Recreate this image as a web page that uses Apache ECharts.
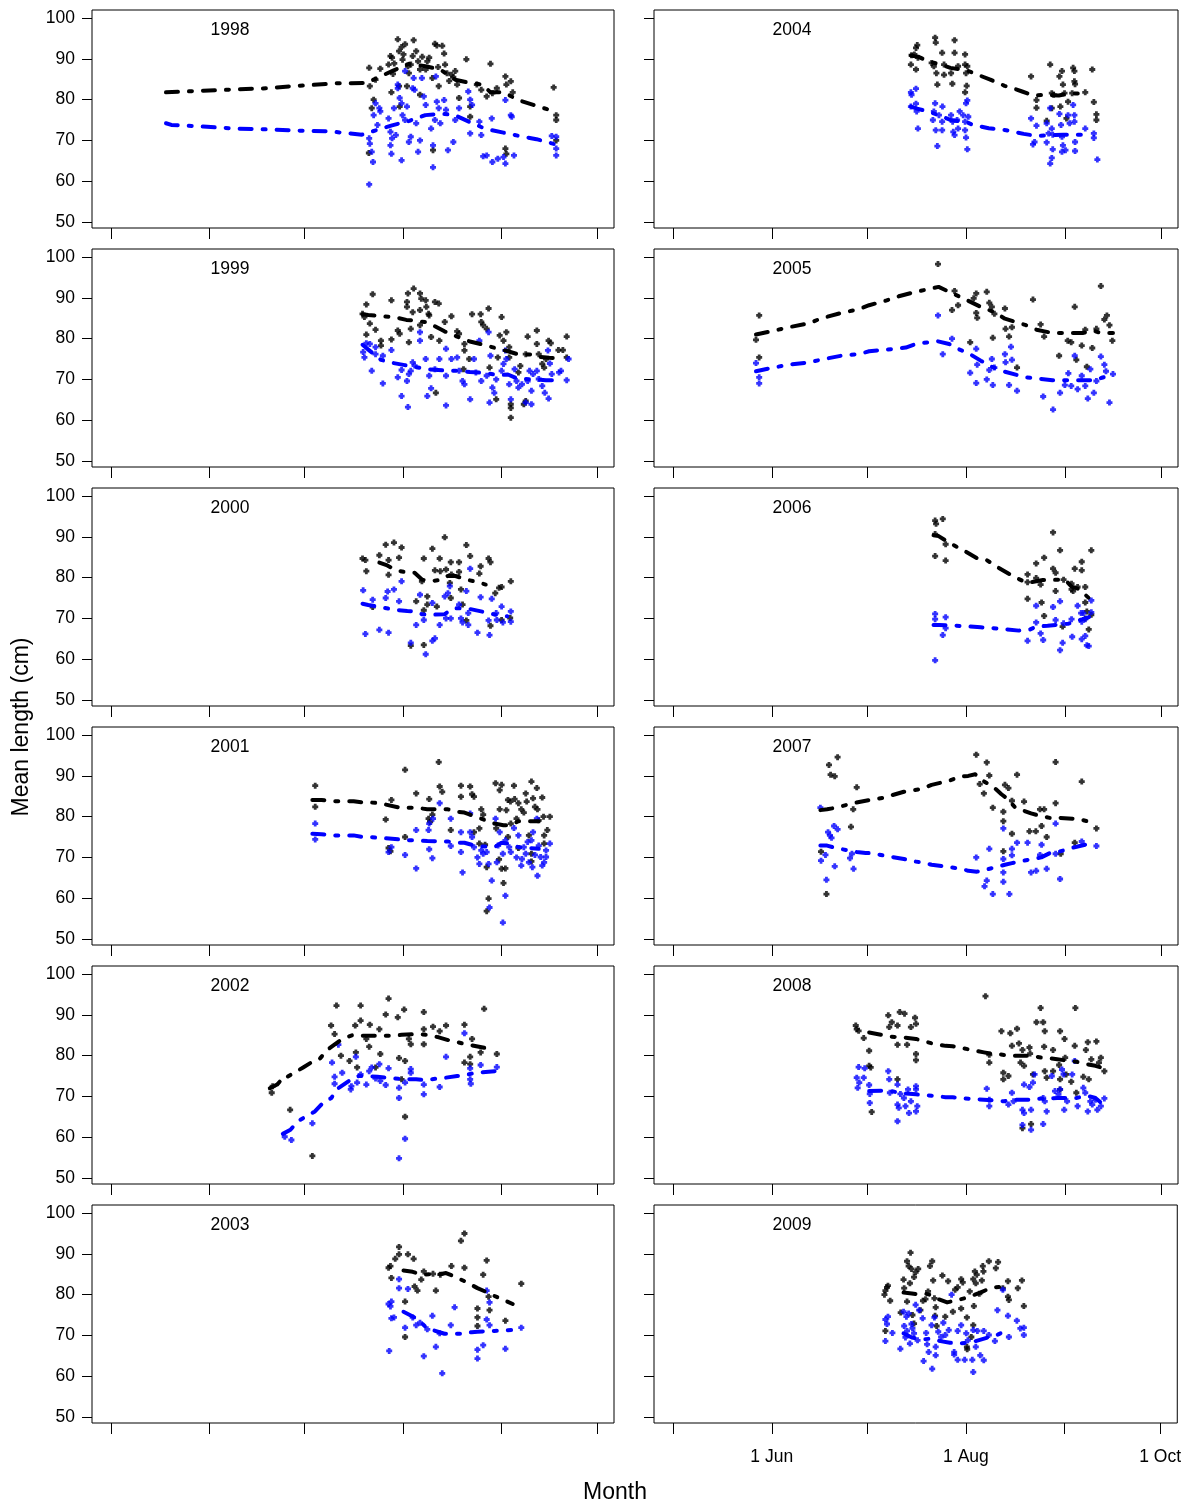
<!DOCTYPE html>
<html><head><meta charset="utf-8">
<script src="https://cdn.jsdelivr.net/npm/echarts@6/dist/echarts.min.js"></script>
<style>html,body{margin:0;padding:0;background:#fff}#c{width:1184px;height:1506px}</style>
</head><body><div id="c"></div>
<script>
// ---- categories / ticks ----
const years = [1998,1999,2000,2001,2002,2003,2004,2005,2006,2007,2008,2009];
const monthTicks = [121,152,182,213,244,274];            // day of year: 1 May .. 1 Oct
const monthLabelTicks = [152,213,274];
const monthLabelText = ['1 Jun','1 Aug','1 Oct'];
const lengthTicks = [50,60,70,80,90,100];

// ---- data: [day of year, mean length cm] ----
const black1998 = [[202.3,87.8],[202.5,83.3],[203.1,77.9],[203.7,80],[204.3,84.9],[202.2,66.9],[205.8,87.6],[208.4,88.6],[209,90.7],[209.5,90.3],[209.3,81.8],[211.3,94.8],[211.7,91.9],[212.5,92.9],[213.6,93.6],[213.1,91.1],[211.9,78.3],[211.7,83.3],[214.2,83.3],[214.8,86.5],[215.4,88.6],[216,90.7],[216.3,94.6],[217.1,91.9],[217.7,89.4],[218.3,87.4],[218.3,81.2],[220.1,87.4],[220.6,89.4],[221.2,90.3],[222.2,85.3],[223,93.7],[223.6,93.3],[224.2,83.3],[225.3,93.2],[225.9,91.3],[226.2,88.6],[226.8,86.5],[228.2,86.1],[228.8,85.5],[229.4,87],[230,83.7],[230.6,80.4],[232.9,89.9],[234.1,78.3],[234.1,75.8],[236.2,83.7],[237.6,82.4],[239.3,80.8],[240.5,88.8],[241.1,81.6],[242.5,82.8],[245.2,85.7],[245.5,83.7],[246.9,84.5],[247.5,81.8],[245.2,68],[245.5,66.7],[222.4,67.6],[260.4,83],[261.2,76.2],[261.2,75],[261.2,70],[210.2,88.9],[212.8,89.8],[214.5,88.2],[219,90.5],[224,88],[227.5,84.6],[209.8,86.3]];
const blue1998 = [[202.3,70.5],[202.5,69.2],[203.1,67.2],[203.5,64.7],[202.3,59.2],[203.7,76.2],[204.3,79.1],[204.9,73.8],[205.5,77.9],[205.8,77.1],[208.4,75.4],[209,72.1],[209,68.8],[209.3,66.7],[209.5,70.5],[210.1,77.9],[210.7,71.3],[211.3,83.7],[211.3,82.8],[211.9,80.4],[212.5,79.1],[212.8,76.2],[212.5,65.1],[213.6,87],[213.6,75],[214.2,78.3],[214.8,69.6],[215.4,70.9],[216,82.8],[216.3,85.3],[216.6,82.4],[217.1,74.2],[217.7,67.2],[218.3,70],[218.9,85.3],[219.5,80.8],[220.1,78.7],[221.8,72.9],[222.4,68.8],[223,75],[223.3,85.7],[223.6,79.5],[224.2,77.9],[224.7,74.2],[222.4,63.4],[225.9,79.9],[226.5,77.5],[227.1,67.6],[228.8,69.6],[229.4,75],[230.6,77.9],[233.5,82],[234.1,80],[234.1,71.7],[234.7,78.7],[237,74.6],[237.6,71.3],[238.2,66.1],[239.3,66.3],[240.9,75.4],[241.1,64.7],[242.8,65.5],[244.6,65.9],[245.2,64.3],[245.2,79.9],[246.9,76.2],[247.2,75.8],[247.9,66.3],[259.8,71.1],[261.2,70.9],[261.2,68],[261.2,66.3]];
const blackFit1998 = [[138.3,81.8],[150,82.2],[160,82.5],[170,82.8],[180,83.4],[192,84],[201.4,84.1],[209.5,87],[214.8,88.8],[220,88.2],[224.7,87.4],[229.4,84.9],[234,84.1],[238,83.7],[240.5,81.8],[244.6,81.8],[249.3,79.9],[254,78.7],[261.5,76.9]];
const blueFit1998 = [[138.3,74.2],[140,73.8],[150,73.4],[160,72.9],[170,72.7],[180,72.4],[190,72.2],[200,71.4],[202.5,72],[209.5,73.7],[215,74.8],[220,76.2],[225,76.5],[229,76.3],[234,74.5],[239,72.8],[244.6,71.9],[250,71],[255,70.3],[262,68.8]];

const black1999 = [[200.2,86.1],[200.8,85.3],[201.4,88.4],[201.4,81],[202.5,83.7],[203.4,90.9],[204.3,82.2],[206,78.3],[206,79.5],[209.3,89.4],[209.3,79.8],[211.3,82],[211.9,81.2],[214.2,89],[214.5,91.1],[214.2,87.8],[214.8,79.1],[215.4,82.4],[216,86.5],[216.3,92.3],[218.3,91.1],[218.7,89.8],[218.3,87],[218.3,83.3],[220.1,89.4],[220.3,87.8],[221,86.1],[221.2,85.7],[221.8,80.4],[223,89],[224.2,88.6],[223.3,66.7],[224.4,79.5],[226.1,84.1],[228.2,85.5],[230,81.8],[230.6,81.2],[232.3,78.7],[232.3,77.1],[232,72.5],[234.7,86],[233.8,75],[237.4,86],[237.6,84.1],[238.2,83.3],[239.3,82.4],[239.9,87.4],[240.2,72.9],[242.3,65.1],[242.8,75.4],[243.4,80.8],[244,85.3],[244.6,79.5],[245.5,81.6],[246.4,77.9],[246.9,63.9],[246.9,60.6],[246.9,63],[246.4,75.4],[249.3,71.7],[249.9,73.3],[251,63.9],[251.6,64.7],[251.6,76.2],[252.2,80.5],[255.1,82],[255.1,78.7],[255.7,76.2],[256.8,73.8],[257.4,72.9],[258,75],[258.8,79.5],[259.5,78.9],[261.9,77.2],[263.3,77.2],[264.5,80.5],[264.5,75.4]];
const blue1999 = [[200.4,76.7],[200.8,75.4],[201.4,78.9],[202.5,78.7],[203.1,72.1],[204.3,76.2],[204.3,77.9],[206.6,75.8],[206.6,69],[209.3,77.2],[211.3,70.5],[212.5,72.3],[212.5,65.9],[214.2,69.6],[214.5,63.2],[214.8,71.3],[215.4,72.1],[216,74.2],[216.6,73.4],[218.3,81.6],[218.3,79.5],[220.1,75],[220.6,65.9],[221.2,70.9],[221.8,67.8],[223,72.5],[224.4,75],[226.5,77.5],[226.5,70.9],[226.5,63.6],[228.2,75],[230,75.4],[230.6,72.1],[231.7,69.6],[232.3,68.8],[234.1,65.1],[235.3,75],[235.9,71.7],[237,79.5],[237.6,69.6],[239.3,70.9],[239.9,81.6],[240.5,75.8],[240.2,64.3],[241.1,68],[241.7,66.7],[242.3,70],[244,72.1],[244.6,73.8],[245.2,77.1],[245.5,75],[246.4,68.8],[246.9,65.1],[248.1,72.5],[248.7,69.6],[249.3,68],[250.4,68.8],[251.6,64.3],[252.2,69.6],[252.8,72.1],[253.4,67.2],[253.4,63.9],[253.9,71.3],[255.1,72.1],[255.7,70.1],[256.8,68.4],[257.6,66.7],[258.6,77.1],[258.8,65.3],[259.2,73.9],[259.8,71.3],[262.1,71.7],[262.7,72.1],[264.5,69.8],[265.1,75]];
const blackFit1999 = [[200.2,86],[202,85.8],[206,85.5],[210,85.3],[214,84.6],[216.6,84.4],[220.6,84],[226,81.8],[230,80.5],[234,79.3],[238.8,78.4],[243,77.5],[246,76.9],[249,76.2],[253,76.1],[256,75.5],[259,75.3],[262,75.2]];
const blueFit1999 = [[200.2,78.5],[202.5,77],[206,74.8],[210,74],[213.5,73.5],[220.6,72.5],[226,72.2],[230,72.1],[234,71.8],[239,71.6],[243,71],[246,71.2],[249,70.2],[254,70],[258,69.8],[262,69.8]];

const black2000 = [[200.2,84.7],[201.1,84.3],[201.4,81.6],[203.4,72.8],[205.5,85.5],[207.5,88.1],[208.4,84.3],[208.4,80.7],[210.1,88.6],[211.7,84.9],[212.5,87.4],[215.4,63.3],[217.1,74.2],[218.9,79.1],[219.5,84.7],[219.5,72],[219.5,63.5],[220.6,75.4],[220.6,73.4],[222.2,87.1],[223,81.8],[223.6,72.9],[224.5,84.7],[224.7,81.6],[226.1,89.9],[226.5,82],[227.7,78.7],[228,75],[228,83.8],[228.2,80.8],[230.6,83.8],[230.6,81.4],[231.2,77.1],[231.7,73.4],[232.9,88],[232.9,69.5],[234.1,85.3],[237,81],[237.4,82.8],[239.9,84.7],[240.5,83.8],[240.5,68.2],[242,76.2],[243.2,77.5],[244,77.7],[244,69.6],[246.9,79.1],[246.7,70.1]];
const blue2000 = [[200.4,76.9],[201.1,66.2],[203.4,74.6],[205.5,67.2],[207.5,75],[208.1,76.6],[208.4,66.5],[210.1,77.1],[211.7,74.2],[212.5,79.1],[215.4,64],[217.1,68.4],[218.3,75.8],[219.5,69.6],[220.1,61.2],[222.2,73.8],[222.2,64.5],[223,65.1],[224.5,68.4],[226.1,75.4],[226.5,70],[227.1,76.2],[227.7,77.9],[228,70],[230.6,73.4],[231.2,70],[231.7,69],[232.9,76.7],[233.5,71.3],[234.1,82.2],[233.5,68.4],[236.4,66.5],[237.4,75.2],[239.9,69.5],[240.2,65.9],[240.9,74.8],[242.3,71.3],[242.5,69.6],[244,72.9],[244.4,69],[246.9,71.7],[246.9,69.2]];
const blackFit2000 = [[205.5,83.7],[208,83],[210.8,81.8],[214.5,81.2],[216.6,81.2],[219,79.5],[222,79.2],[224.7,79.4],[227,80.4],[229.5,80.4],[233,79.5],[236,79],[239,78.3]];
const blueFit2000 = [[200.2,73.6],[202,73.3],[205.5,72.8],[210.5,72.1],[214.3,71.8],[216.6,71.7],[219,71],[222,70.9],[226,71],[228.6,72.4],[230.5,72.5],[234,72.3],[239.5,71.4],[242,70.9],[245.8,70.5]];

const black2001 = [[185.3,87.6],[185.3,82.4],[207.5,79.3],[208.4,72.3],[209,71.5],[209.3,84.1],[213.6,91.5],[213.6,75],[217.1,85.7],[221.2,84.3],[221,79.5],[221.5,78.7],[222.2,80.5],[224.2,93.4],[224.5,87.4],[225.3,86.1],[228,76.7],[231.2,87.6],[231.2,84.9],[234.1,87.4],[234.7,85.5],[235.3,84.9],[235.3,76.2],[237,77.1],[237.6,81.8],[238.2,80.5],[237,73.4],[238.8,73.1],[239.3,67.6],[239.9,59.9],[239.3,56.8],[242.1,88.2],[242.3,77.1],[243.4,86.5],[243.4,81.8],[243.2,69.5],[244,67.2],[244.6,63.7],[244,87.8],[245.2,67.3],[245.5,81.6],[246,84.1],[246,75],[246.8,83.7],[246.9,78.3],[247.9,87.6],[248.1,84.3],[248.7,79.5],[249.3,83.3],[249.3,72.3],[250.2,81.8],[251,81],[251.6,85.7],[251.9,83.7],[252.6,75.4],[253.4,70.9],[253.4,88.6],[253.9,84.5],[254.5,82.4],[255.1,87],[255.3,81.8],[255.7,79.1],[256.8,84.7],[257.2,80],[257.4,75.4],[258.4,76.7],[259.2,80],[257.4,73.4],[253.4,69]];
const blue2001 = [[185.3,78.3],[185.3,74.4],[208.4,71.3],[209.3,72.5],[213.6,70.6],[217.1,76.7],[217.1,67.3],[221,76.7],[221.2,78.3],[221.2,72],[222.2,69.8],[222.4,79.5],[224.5,83.3],[228,79.5],[228,72.8],[231.2,76.2],[231.2,71.3],[231.7,66.3],[234.1,80.8],[234.1,76.2],[234.7,75],[235.3,72.5],[236.4,70],[237,68.4],[237.6,71.7],[238.2,70.9],[239.3,71.3],[239.9,68.4],[240.2,57.7],[240.9,64.3],[242.1,79.5],[242.5,68.8],[242.9,72.9],[243.4,76.2],[244.4,70.9],[245.2,60.6],[244.4,54],[245.2,74.2],[246.4,72.5],[246.9,71.3],[247.9,77.2],[248.7,70],[249.3,75.4],[250.2,68],[250.4,69.6],[251,72.5],[251.6,70.9],[252.2,73.8],[252.6,68.8],[253.4,74.2],[253.7,67.6],[253.9,76.2],[254.5,70.6],[255.1,79.5],[255.3,65.5],[255.7,72.9],[256.3,70.1],[256.8,68],[257.4,68.8],[258,71.7],[258,70.1],[259.2,73.4]];
const blackFit2001 = [[184.4,84.1],[187.3,84.1],[190,83.8],[197.4,83.8],[200.2,83.5],[202.3,83.5],[205.5,83.3],[212,82.2],[215.4,82.2],[217.1,82.2],[220.6,81.8],[227.1,81.8],[230,81.2],[232.3,81],[235.9,80],[241.7,78.3],[244.6,77.9],[246.9,77.9],[249.3,78.9],[255.7,78.9]];
const blueFit2001 = [[184.4,75.8],[187.3,75.7],[190,75.4],[197.4,75.4],[200.2,75],[202.3,75],[205.5,74.8],[212,74.4],[215,74.2],[217.1,74.2],[220.6,74],[227.1,73.9],[230,73.6],[232.3,73.6],[235.9,72.8],[241.7,72.5],[244,73.6],[246.9,73.3],[249.3,72.5],[255.7,72.1]];

const black2002 = [[171.6,70.9],[171.9,72.5],[177.4,66.7],[184.4,55.4],[190.3,87.4],[191.4,85.3],[192,92.3],[193.4,80],[196.1,78.7],[197.9,87.4],[198.1,80.8],[198.5,77.1],[199.6,92.3],[199.6,88.6],[201.4,84.1],[202.3,82.2],[202.5,87.6],[204.3,77.1],[205.5,86.5],[205.8,80.4],[207.5,90.1],[208.4,94],[211.3,89.4],[211.7,79.4],[212.5,74.2],[213.3,91.3],[213.6,78.7],[213.6,65],[214.8,84.1],[215.4,82.8],[219.5,90.7],[219.5,86.5],[219.5,82.8],[222.4,87.1],[224.5,86],[226.5,87.4],[232.3,87.6],[232.3,78.3],[234.1,79.7],[234.7,84.1],[234.1,77.9],[237.4,80.8],[238.5,91.5],[242.5,80.4]];
const blue2002 = [[175.7,60.1],[177.8,59.3],[184.4,63.4],[190.6,78.3],[191.4,74.8],[191.4,73.1],[192.6,82.7],[193.8,75.8],[196.5,71.7],[196.7,72.5],[198.1,79.7],[198.5,73.4],[199.6,75.4],[201.4,72.9],[202.3,76.2],[203.1,77.1],[204.3,74.4],[205.5,77.9],[205.8,73.8],[207.5,72.8],[208.4,76.9],[211.7,72.1],[211.7,69.6],[211.7,54.8],[213.6,73.4],[213.6,59.6],[215.4,76.7],[215.4,75.8],[219.5,72.9],[219.5,70.5],[224.5,72.3],[226.5,79.7],[232.3,85.5],[234.1,76.9],[234.1,74.2],[234.3,73.1],[237.4,77.7],[242.5,77.2]];
const blackFit2002 = [[171,72],[173.3,72.9],[175.7,75],[176.5,74.8],[181.5,77.1],[184.4,78.5],[186.8,79.3],[189.1,81.4],[193.8,84.1],[197.3,85.1],[199.6,84.9],[203.1,84.9],[209,84.9],[212.5,85.1],[217.7,85.3],[220.5,85.1],[224.2,84.5],[227.7,83.7],[230,83.3],[232.9,82.8],[239.3,81.8]];
const blueFit2002 = [[175.1,60.8],[177.5,61.8],[179.8,63.9],[185.2,66.3],[188.2,68.8],[190.4,69.6],[192,71.7],[196.7,74.2],[199,75],[201.4,75],[204.9,74.8],[210,74.4],[214.8,74.2],[217.1,74.2],[219.5,74],[226.5,74.6],[230,75],[232.3,75.2],[235.9,75.8],[243.4,76.3]];

const black2003 = [[208.4,86.6],[209,87],[209.3,84.1],[210.5,88.8],[211.7,91.7],[211.7,89.9],[213.6,78.3],[213.6,69.6],[214.5,89.9],[216.3,88.8],[216.6,82],[217.5,81],[218.7,83.7],[219.5,85.7],[222.4,85.1],[223.3,81],[224.7,84.9],[228.2,87],[231.2,93.2],[232.3,95],[232.3,86.6],[236.4,76.6],[236.4,74.4],[236.4,72.3],[238.2,84.9],[239.3,88.4],[239.9,79.5],[240.2,76.2],[245.2,73.6],[250.2,82.7]];
const blue2003 = [[208.4,77.7],[208.6,66.2],[209,77.1],[209.3,78.3],[209.3,74.2],[210.1,74.4],[211.7,83.8],[211.7,81.6],[213.6,71.9],[214.5,81.4],[216,74.4],[217.1,72.5],[218.3,73.1],[219.5,64.9],[220.6,71.5],[222.2,74.8],[223.3,67.2],[224.5,70.5],[225.3,60.7],[228,72.5],[229.2,76.9],[236.4,66.5],[236.4,64.3],[238.2,67.6],[239.3,81],[239.3,73.9],[240.2,78.1],[240.2,72.5],[245.2,66.7],[250.2,71.9]];
const blackFit2003 = [[213.1,85.9],[216,85.6],[218.9,84.9],[221.8,85],[223,84.8],[226.5,85.3],[229,84.5],[232.3,83.3],[236.4,81.6],[240.5,80.2],[241.7,79.7],[247.5,77.7]];
const blueFit2003 = [[213.1,75.8],[216.6,74.4],[218.9,73],[220.6,71.6],[222.4,71.3],[226,70.4],[231.7,70.4],[234.6,70.8],[236.4,70.9],[241.7,71.1],[247,71.3]];

const black2004 = [[195.6,88.6],[196.7,91.1],[197.2,92.7],[197.6,93.4],[197.2,87.4],[197.8,90.3],[195.8,90.9],[202.1,89],[203.2,95.2],[203.4,94],[202.8,88.2],[203.6,86.5],[203.9,83.7],[205.4,91.5],[206,88.6],[206,86.1],[208.2,86.5],[208.6,83.9],[209.3,94.6],[209.3,91.5],[210.4,88.2],[212.6,91.1],[212.6,88.6],[212.9,86.5],[213.1,83.4],[212.6,81.8],[213.3,88.2],[233.3,85.7],[235,79.9],[235,78],[238.2,74.8],[239.3,88.6],[239.8,81.6],[240.4,81.2],[239.8,77.9],[242.2,85.7],[242.5,78.3],[243,87],[243.3,83.7],[243.8,81.6],[244.4,75.4],[244.9,79.5],[246.5,87.8],[246.9,87],[246.9,84.5],[247.1,83.8],[246.2,81.6],[250.3,81.8],[252.5,87.4],[253,79.4],[253.8,76.4],[253.8,75]];
const blue2004 = [[195.6,81.8],[195.8,81.2],[197.2,82.7],[197.2,79],[197.4,77.1],[197.8,72.9],[195.6,78.3],[203.2,79.1],[202.8,77.1],[202.5,75],[203.4,72.5],[203.9,68.6],[204.4,76.2],[205.5,78.3],[205.4,74.6],[205.4,72.5],[208.2,76.2],[208.7,74.6],[208.9,72.1],[209.3,71.3],[210.1,75],[210.4,72.9],[210.9,77.1],[212,76.2],[212.6,74.6],[212.6,72.5],[212.9,79.1],[213.3,79.8],[212.9,70.7],[213.3,67.8],[213.6,75.8],[233.3,75.4],[235,73.6],[233.9,69],[234.4,69.6],[238.2,74.2],[238.8,71.7],[239.3,77.9],[239.8,72.9],[240.1,71.4],[240.1,67.8],[238.2,69.5],[239.8,65.7],[239.3,64.3],[242.2,76.5],[242.7,73.8],[243,70.9],[243.3,68.8],[243,67.2],[244.1,67.6],[244.9,76.2],[245.4,74.2],[246.5,78.7],[246.9,76.2],[246.9,74.6],[247.1,69.6],[247.1,67.4],[250.3,72.9],[253,71.7],[253,70.6],[254.1,65.3]];
const blackFit2004 = [[195.6,90.8],[198,90.5],[201,89.4],[205,88.6],[208,87.8],[213,87.2],[215.3,86.5],[220.5,84.9],[225,83.4],[227.5,82.8],[230.5,82],[234,81],[238,81.2],[242,81],[245,81.5],[251,81.5]];
const blueFit2004 = [[195.6,78.3],[197.5,77.8],[201,77.1],[205,76],[208,75],[213,74.5],[215,73.8],[220,73],[225.5,72.5],[231,71.6],[235,71.1],[243.5,71.4],[251,71.4]];

const black2005 = [[147,79.7],[148,85.7],[148,75.4],[204.1,98.3],[208.5,87],[209.3,91.7],[210.4,88.2],[214.2,79.1],[215.3,89.9],[216.1,91.1],[216.1,86.3],[216.4,85.1],[219.4,91.5],[220.2,88.8],[221,87.8],[221.3,80.2],[221.8,86.1],[225.1,87.4],[225.3,82.4],[226.4,80.5],[227.3,82.8],[228.9,72.9],[233.9,89.6],[236.3,83.5],[237.4,80.5],[242.1,75.8],[244.8,79.5],[245.9,79.1],[247,87.8],[247.5,74.8],[249.2,78.3],[250.8,73.1],[250.3,82.2],[252.5,77.7],[253.8,82.4],[255.2,92.9],[256.3,84.7],[257.1,85.7],[257.9,83.3],[258.8,79.5]];
const blue2005 = [[147,74],[148,70.5],[148,69],[204.1,85.7],[205.6,76.2],[208.5,80],[214.2,71.6],[216.1,77.5],[216.4,73.6],[216.1,69.1],[219.4,70],[220.2,72.3],[221,75],[221.3,68.6],[221.8,72.9],[225.1,76.2],[225.3,74.2],[226.4,68.6],[227,78],[227.3,74.8],[228.9,67.2],[237.1,65.8],[240.2,62.6],[242.4,66.7],[243.9,68.6],[245,71.5],[245.9,68.4],[247,75.8],[247.9,67.6],[249.2,70.9],[250.3,68.4],[251.1,65.3],[251.9,72.5],[253,66.7],[253.8,69.6],[255.2,75.6],[256.3,73.6],[256.8,72],[257.9,64.3],[259,71.3]];
const blackFit2005 = [[147,81],[151.8,81.8],[157.3,82.8],[163.9,83.8],[167.1,84.9],[173.7,86.3],[179.2,87.2],[182.5,88.2],[188,89.4],[191.8,90.4],[197.2,91.5],[204.3,92.7],[208.7,91.1],[212,89.9],[217.5,87.8],[221.8,86.5],[225.1,84.9],[231.7,83.3],[235,82.2],[239.9,81.4],[247,81.4],[249.7,81.4],[252.5,82],[255.2,81.4],[259,81.4]];
const blueFit2005 = [[147,72],[151.8,72.8],[157.3,73.6],[163.9,74.2],[167.1,74.8],[173.7,75.8],[179.2,76.2],[182.5,76.9],[188,77.3],[194,77.8],[197.2,78.7],[203.8,79.4],[204.3,79.5],[207.6,78.7],[210.9,77.3],[213.5,76.5],[217.5,74.6],[221,73.1],[225,71.9],[231.7,70.5],[235,70.2],[240,69.8],[247,69.8],[250.5,69.8],[253,69.8],[255.5,70.4],[259,71.2]];

const black2006 = [[203.2,94],[203.5,93.2],[205.6,94.4],[203.2,90.7],[203.2,85.3],[206.5,88.2],[206.5,84.2],[232.2,80.8],[232.2,78.9],[232.2,74.8],[234.9,83.5],[234.9,79.9],[236.3,78.3],[236.6,73.9],[237.4,84.9],[237.4,70.6],[240.2,91.1],[240.2,82.2],[241,81.2],[241,76.7],[242.4,86.7],[243.2,68],[243.5,79.5],[246,78.5],[246,77.1],[246.5,76.7],[247,82.2],[247.9,77.7],[249.2,83.9],[249.2,81.8],[250.3,77.7],[250.3,73.9],[250.8,71.7],[250.3,70],[251.4,67.3],[252.2,86.7],[252.2,70.9]];
const blue2006 = [[203.2,71.1],[203.2,69.8],[203.2,59.7],[205.6,65.9],[206.5,70.3],[206.5,67.6],[232.2,64.5],[234.9,73.1],[234.9,69],[236.3,66.3],[237.1,64.7],[240.2,72.8],[241,69.6],[242.4,74.2],[242.4,62.2],[243.2,64],[243.5,68.8],[246,69.8],[246.2,65.5],[247.9,73.1],[249,71.3],[249.2,69.2],[249.2,64.9],[249.7,71.3],[250.3,65.7],[250.3,69.8],[251.4,63.2],[250.8,63.4],[252.2,71.5],[252.2,74.4]];
const blackFit2006 = [[202.7,90.4],[204.3,90.2],[207.5,88.6],[213,86.3],[216.5,84.7],[219,84.5],[222.5,82.7],[228,80.2],[231.5,78.9],[233.5,78.9],[237,79.4],[244,79.5],[246,77.8],[248,77.3],[250,76],[252,74.6]];
const blueFit2006 = [[202.7,68.4],[204.5,68.4],[208,68.3],[214,68],[217.5,67.8],[219.6,67.7],[223,67.5],[229.5,67],[233,67.3],[235,68],[238.5,68.2],[245,68.7],[247.2,69.3],[249.5,69.8],[251.5,70.3]];

const black2007 = [[167.4,71.4],[169.1,61],[169.9,92.7],[170.4,90.3],[171.7,89.9],[172.6,94.6],[176.8,77.5],[177.5,81.8],[178.6,87.2],[216.1,95.2],[217.2,88],[218.5,85.7],[219.4,93.3],[220.2,90.1],[221.3,82.2],[224.6,81.2],[224.6,78.9],[224.6,71.5],[225.1,87.8],[226.2,87],[227.3,83.9],[227.3,75.8],[228.9,90.3],[231.1,83.7],[232.8,76.4],[234.8,76.4],[236.1,81.8],[236.6,77.7],[237.4,81.8],[238.2,75],[241,93.4],[241,83.3],[242.6,70.9],[247,73.6],[249.2,88.6],[253.8,77.1]];
const blue2007 = [[167.2,82.2],[167.4,69.2],[168.8,70.6],[169.1,64.5],[169.6,76.2],[170.2,75.4],[170.7,74.8],[171.5,77.7],[171.7,67.8],[172.6,76.9],[176.5,69.8],[177.1,70.9],[177.6,67.2],[216.1,70],[219.4,64.3],[218.7,62.9],[220.2,72.1],[221.3,61],[224.6,77.1],[224.6,69.6],[224.6,66.3],[224.6,64],[226.5,61],[227.3,72.1],[227.3,70.5],[228.9,73.6],[232.2,73.6],[233.3,66.3],[234.9,66.7],[236.1,70.6],[236.6,73.1],[238.2,67.2],[241,78.3],[241,70.9],[242.4,64.7],[249.2,73.9],[253.8,72.8]];
const blackFit2007 = [[167.2,81.6],[169.3,81.8],[172.1,82.2],[177.5,83.3],[181.4,83.9],[186.8,84.6],[193.4,86.1],[198.9,86.8],[202.1,87.8],[207.6,88.8],[211.4,89.9],[213.6,90],[215.8,90.4],[216.9,89.4],[221.3,87.4],[224,85.5],[225.7,84.5],[228.4,82.2],[233.3,80.8],[236.1,80.2],[240.4,79.5],[242.1,79.7],[248.1,79.4],[250.8,78.9],[253.5,78.5]];
const blueFit2007 = [[167.2,72.9],[169.3,72.9],[172.1,72.3],[178.6,71.3],[181.4,71.1],[183.6,71],[186.8,70.5],[193.4,69.6],[196.7,69],[198.9,68.8],[202.1,68.2],[207.6,67.6],[211.4,67.2],[213.6,66.7],[216.3,66.5],[222.4,67.6],[225.1,68.2],[227.3,68.6],[231.1,69.2],[236.5,70],[239.8,71.3],[242.1,71.4],[245.9,72.3],[251.4,73.3]];

const black2008 = [[178.3,87.4],[178.6,86.5],[179.2,86.1],[180.8,84.3],[182.5,81.2],[182.5,77.5],[183,77.1],[183.3,66.2],[188.5,89.9],[188.8,87],[189.6,88.2],[191.4,87.4],[191.4,82.7],[191.4,74.2],[192.1,90.7],[193.6,90.3],[194.4,82.7],[195.6,87],[196.9,89.3],[197.2,87.8],[197.2,80.4],[197.2,78.9],[219,94.6],[220.2,80.2],[220.2,78.3],[224,86],[224.6,75.8],[224.6,74.2],[226.2,75],[226.8,85.5],[227.3,82.4],[228.9,86.6],[229.5,83],[230,78.3],[230.6,81.4],[231.1,77.5],[232.8,82],[233,80.5],[233.3,63.2],[230.6,62.2],[233.9,75.4],[235,88.2],[236.3,91.7],[237.1,88.2],[237.4,82.2],[237.6,86],[237.6,76.2],[238.2,74.6],[240.2,81.4],[240.2,76.2],[242.4,86],[242.1,77.7],[242.4,74.2],[242.4,71.7],[243.8,84.1],[244,79.5],[244.3,75.4],[245.9,73.6],[247.2,91.7],[247,82.4],[247.5,70.9],[249.7,74.8],[250.5,81.4],[251.1,83.3],[251.4,74.2],[252.2,79.1],[253.8,83.5],[254.6,78.3],[255.2,79.5],[256.3,76.2]];
const blue2008 = [[178.6,74.6],[179.2,77.2],[179.4,73.4],[178.9,72.1],[180.8,74.6],[181.1,76.9],[182.5,72.8],[182.7,70.6],[182.7,68.4],[188.5,76.2],[188.8,74.2],[189,70.9],[191.4,72.9],[191.4,68],[191.8,67.2],[191.4,63.9],[192.3,70.6],[193.4,69.6],[193.9,67.6],[194.7,71.7],[195,65.9],[195.6,68.8],[197.2,72.5],[197.2,71.7],[197.2,66.3],[197.6,67.6],[219.4,71.9],[220.2,69.2],[220.2,67.6],[226.2,68],[227.3,70.9],[227.8,68.8],[230.6,66.7],[231.1,65.9],[231.1,72.9],[230.6,63],[232.8,72.3],[233.3,66.7],[233.3,61.8],[233.9,73.4],[234.4,75.4],[237.1,63.2],[237.1,69.6],[237.6,68.8],[238.2,66.3],[239.8,75],[240.8,71.3],[241.9,70.5],[242.4,71.7],[243,76.6],[243.5,75.4],[243.7,66.7],[244.6,68.8],[246.2,75.4],[247,78.7],[247.9,67.6],[249.7,72.1],[250.3,70.9],[251.1,66.3],[251.9,68.8],[252.5,68],[253.5,69.2],[254.1,66.7],[255.2,67.6],[256.3,69.5]];
const blackFit2008 = [[182.5,85.7],[189,84.7],[191.8,84.5],[194,84.4],[197.2,84.1],[203.2,82.8],[206.5,82.4],[208.7,82.3],[212,81.8],[218.5,80.8],[221.3,80.4],[223.5,80.3],[226.8,80],[233.3,80],[236.6,79.5],[238.8,79.4],[241.5,79.1],[247.5,78.5],[250.8,77.9],[253.5,77.5],[255.2,77.1],[256.8,76.2]];
const blueFit2008 = [[182.5,71.3],[189,71.4],[191.8,70.9],[194,70.7],[197.2,70.5],[203.2,70.1],[206.5,69.8],[208.7,69.8],[212,69.5],[218.5,69.2],[221.3,69],[225,68.8],[226.8,69.2],[233.3,69.2],[236.6,69.5],[238.8,69.5],[241.5,69.6],[247.5,69.6],[250.8,70.2],[253.5,69.6],[255.2,68.5],[256.8,68]];

const black2009 = [[187.4,80],[187.7,81],[188.2,81.8],[188.5,82.2],[187.7,71.1],[189.2,78.5],[192.5,75.6],[193.4,83.7],[193.6,81.6],[194.5,88.2],[195,87],[195.4,82.8],[195.6,90.3],[195.9,86.3],[196.7,84.3],[197.2,85.5],[198,86.3],[194.5,78.3],[196.2,75],[196.7,72.9],[198.7,76.2],[199.5,78.5],[200.3,78.9],[201.1,80.8],[201.7,87],[202.4,88.2],[202.7,83.5],[203.1,79.1],[203.5,76.9],[203.3,74.8],[203.8,72.3],[205.6,84.7],[206.5,74.6],[207.4,83.3],[208.9,75.8],[209.6,81.2],[210.4,81.8],[211.5,83.8],[211.5,76.6],[212,83],[213.3,74.4],[213.3,67.2],[214.2,80.8],[215.3,83.8],[215.5,77.2],[215.8,85.7],[216.1,82.8],[216.4,84.9],[217.2,80.2],[218,83.5],[218.3,87],[218.5,85.7],[220.2,88.2],[222.4,86.5],[223.1,88],[224.6,81.6],[226.2,79.5],[226.5,78.7],[226.2,83.3],[229.3,81.6],[230.6,83.5],[231.2,77.2],[215.3,72.5],[214.7,69.6],[213.4,66.6]];
const blue2009 = [[187.7,73.9],[188.2,72.8],[188.5,74.6],[187.7,68.6],[189.9,70.6],[192.4,66.7],[193.4,75.8],[193.6,72.3],[194,69.5],[194.3,74.6],[194.5,71.1],[195,75.4],[195.4,68],[195.9,72.8],[196.2,71.7],[196.7,70.5],[197.2,77.5],[197.8,68.8],[198.3,76.2],[199.4,74.2],[199.7,63.7],[200.5,70.6],[200.8,67.8],[201.3,65.9],[202.2,72.5],[202.4,61.8],[203.1,74.4],[203.5,67.2],[203.5,65.1],[204.3,70.9],[205.2,69.6],[205.9,73.1],[206.5,70.1],[207.6,71.3],[208.5,80],[209.3,65.9],[209.3,65.3],[210.4,64],[210.4,71.1],[211.5,72.5],[212.6,64],[213.1,70.5],[213.6,68.8],[215,64],[215.3,71.3],[215.3,61],[216.1,67.2],[216.6,71.1],[217.5,65.1],[218.6,63.9],[218.6,71.1],[220.2,70.1],[222.1,68.6],[222.9,76.2],[224.6,81.2],[226.2,74.8],[226.5,69.6],[229,73.6],[230.1,71.7],[231.2,70.1],[231.2,71.9]];
const blackFit2009 = [[193.4,80.5],[196,80.3],[198.3,80],[200.5,80.2],[202,79.9],[204.3,78.9],[207.1,78.1],[210,78.6],[212.5,79.1],[215.8,80],[217.5,80.5],[220.7,81.6],[226.2,82.2]];
const blueFit2009 = [[193.4,70.5],[196,69.5],[199,69],[202,69.2],[205,68.6],[208,68.2],[211,68],[213.6,68.2],[216,68.6],[219.5,69.4],[223,70.2],[226.2,71.3]];

// ---- assemble ----
const blackPts = [black1998,black1999,black2000,black2001,black2002,black2003,black2004,black2005,black2006,black2007,black2008,black2009];
const bluePts = [blue1998,blue1999,blue2000,blue2001,blue2002,blue2003,blue2004,blue2005,blue2006,blue2007,blue2008,blue2009];
const blackFits = [blackFit1998,blackFit1999,blackFit2000,blackFit2001,blackFit2002,blackFit2003,blackFit2004,blackFit2005,blackFit2006,blackFit2007,blackFit2008,blackFit2009];
const blueFits = [blueFit1998,blueFit1999,blueFit2000,blueFit2001,blueFit2002,blueFit2003,blueFit2004,blueFit2005,blueFit2006,blueFit2007,blueFit2008,blueFit2009];

const FONT = 'Liberation Sans, Arial, Helvetica, sans-serif';
const BLUE = '#0000ff', BLACK = '#000000';
const PLUS = 'path://M1.6,0H4.4V1.6H6V4.4H4.4V6H1.6V4.4H0V1.6H1.6Z';
const colLeft = [92, 654], colWidth = [522, 524];
const rowTop0 = 10, rowStep = 239, panelH = 218;

const grids = [], xAxes = [], yAxes = [], series = [], graphics = [];
years.forEach((yr, i) => {
  const col = i < 6 ? 0 : 1, row = i % 6;
  const top = rowTop0 + rowStep * row;
  grids.push({left: colLeft[col], top: top, width: colWidth[col], height: panelH,
    show: true, borderColor: '#000', borderWidth: 1, backgroundColor: 'transparent', containLabel: false});
  const isLabelPanel = (i === 11);
  xAxes.push({gridIndex: i, type: 'value', min: 115, max: 279.4,
    axisLine: {show: false}, splitLine: {show: false},
    axisTick: {show: true, inside: false, length: 11, lineStyle: {color: '#000', width: 1}, customValues: monthTicks},
    axisLabel: {show: isLabelPanel, customValues: monthLabelTicks, margin: 25, fontSize: 17.5, color: '#000', fontFamily: FONT,
      formatter: v => { const k = monthLabelTicks.indexOf(Math.round(v)); return k >= 0 ? monthLabelText[k] : ''; }}
  });
  yAxes.push({gridIndex: i, type: 'value', min: 48.5, max: 102,
    axisLine: {show: false}, splitLine: {show: false},
    axisTick: {show: true, inside: false, length: 10, lineStyle: {color: '#000', width: 1}, customValues: lengthTicks},
    axisLabel: {show: col === 0, customValues: lengthTicks, margin: 17, fontSize: 17.5, color: '#000', fontFamily: FONT}
  });
  series.push({type: 'scatter', xAxisIndex: i, yAxisIndex: i, data: blackPts[i], symbol: PLUS, symbolSize: 6,
    itemStyle: {color: BLACK}, z: 2, silent: true});
  series.push({type: 'scatter', xAxisIndex: i, yAxisIndex: i, data: bluePts[i], symbol: PLUS, symbolSize: 6,
    itemStyle: {color: BLUE}, z: 2, silent: true});
  series.push({type: 'line', xAxisIndex: i, yAxisIndex: i, data: blackFits[i], showSymbol: false, symbol: 'none',
    lineStyle: {color: BLACK, width: 4, type: [12, 11, 3, 11], cap: 'round', join: 'round'}, z: 3, silent: true});
  series.push({type: 'line', xAxisIndex: i, yAxisIndex: i, data: blueFits[i], showSymbol: false, symbol: 'none',
    lineStyle: {color: BLUE, width: 4, type: [12, 11, 3, 11], cap: 'round', join: 'round'}, z: 3, silent: true});
  graphics.push({type: 'text', x: colLeft[col] + 138, y: top + 20,
    style: {text: String(yr), fontSize: 17.5, fontFamily: FONT, fill: '#000', textAlign: 'center', textVerticalAlign: 'middle'}});
});
graphics.push({type: 'text', x: 22, y: 727, rotation: Math.PI / 2,
  style: {text: 'Mean length (cm)', fontSize: 23, fontFamily: FONT, fill: '#000', textAlign: 'center', textVerticalAlign: 'middle'}});
graphics.push({type: 'text', x: 615, y: 1493,
  style: {text: 'Month', fontSize: 23, fontFamily: FONT, fill: '#000', textAlign: 'center', textVerticalAlign: 'middle'}});

const chart = echarts.init(document.getElementById('c'), null, {renderer: 'canvas'});
chart.setOption({animation: false, backgroundColor: '#fff', grid: grids, xAxis: xAxes, yAxis: yAxes, series: series, graphic: graphics});
</script></body></html>
